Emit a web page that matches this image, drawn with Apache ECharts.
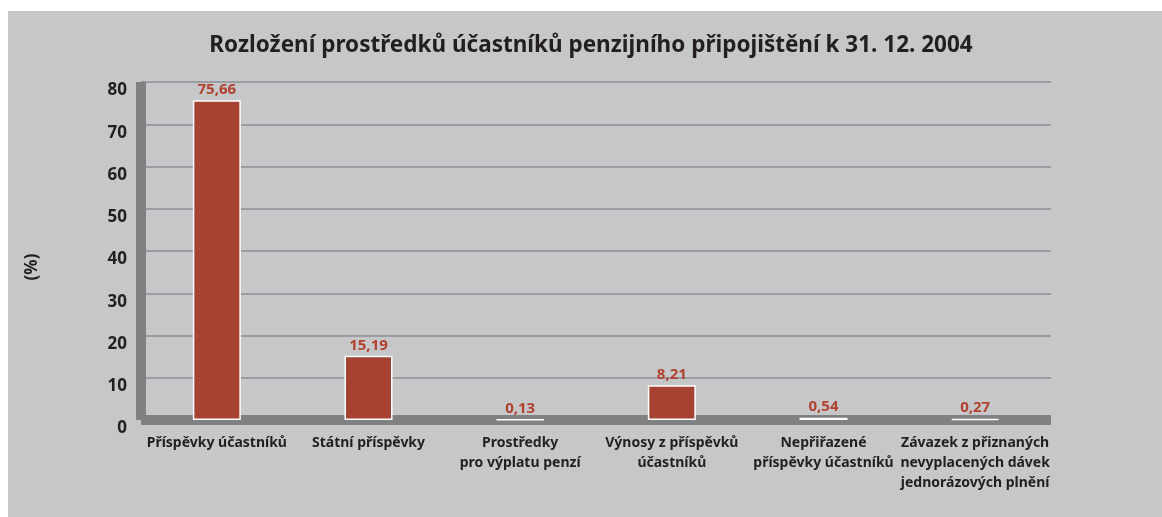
<!DOCTYPE html>
<html>
<head>
<meta charset="utf-8">
<script src="https://cdn.jsdelivr.net/npm/echarts@6/dist/echarts.min.js"></script>
<style>
html, body { margin: 0; padding: 0; background: #fff; }
#chart { width: 1162px; height: 517px; }
</style>
</head>
<body>
<div id="chart"></div>
<script>
// data
var titleText = 'Rozložení prostředků účastníků penzijního připojištění k 31. 12. 2004';
var categories = [
    'Příspěvky účastníků',
    'Státní příspěvky',
    'Prostředky\npro výplatu penzí',
    'Výnosy z příspěvků\núčastníků',
    'Nepřiřazené\npříspěvky účastníků',
    'Závazek z přiznaných\nnevyplacených dávek\njednorázových plnění'
];
var shares = [75.66, 15.19, 0.13, 8.21, 0.54, 0.27];
var yTicks = [0, 10, 20, 30, 40, 50, 60, 70, 80];

var font = 'Noto Sans';
var myChart = echarts.init(document.getElementById('chart'));
var option = {
    backgroundColor: '#c6c7c9',
    animation: false,
    textStyle: { fontFamily: font },
    graphic: [
        // white page margins
        { type: 'rect', shape: { x: 0, y: 0, width: 1162, height: 11 }, style: { fill: '#fff' }, silent: true },
        { type: 'rect', shape: { x: 0, y: 0, width: 8, height: 517 }, style: { fill: '#fff' }, silent: true },
        {
            type: 'text', x: 591, y: 46,
            style: {
                text: titleText, fill: '#231f20', font: 'bold 22.5px "Noto Sans"',
                textAlign: 'center', textVerticalAlign: 'middle'
            }
        },
        {
            type: 'text', x: 32, y: 267, rotation: Math.PI / 2,
            style: {
                text: '(%)', fill: '#231f20', font: 'bold 17px "Noto Sans"',
                textAlign: 'center', textVerticalAlign: 'middle'
            }
        }
    ],
    grid: { left: 141, right: 111, top: 82, bottom: 97 },
    xAxis: {
        type: 'category',
        data: categories,
        axisTick: { show: false },
        axisLine: { lineStyle: { color: '#808183', width: 10, cap: 'butt' } },
        axisLabel: {
            interval: 0,
            margin: 13,
            color: '#231f20',
            fontSize: 14,
            fontWeight: 'bold',
            lineHeight: 20,
            fontFamily: font
        }
    },
    yAxis: {
        type: 'value',
        min: yTicks[0],
        max: yTicks[yTicks.length - 1],
        interval: 10,
        axisLine: { show: true, lineStyle: { color: '#808183', width: 10, cap: 'butt' } },
        axisTick: { show: false },
        splitLine: { lineStyle: { color: '#8d8e90', width: 1.5 } },
        axisLabel: {
            margin: 14,
            color: '#231f20',
            fontSize: 17,
            fontWeight: 'bold',
            verticalAlign: 'top',
            fontFamily: font
        }
    },
    series: [{
        type: 'bar',
        data: shares,
        barWidth: 48,
        itemStyle: { color: '#a64232', borderColor: '#ffffff', borderWidth: 1.5 },
        label: {
            show: true,
            position: 'top',
            distance: 3,
            color: '#b0422f',
            fontSize: 15,
            fontWeight: 'bold',
            fontFamily: font,
            formatter: function (p) { return p.value.toFixed(2).replace('.', ','); }
        }
    }]
};
myChart.setOption(option);
</script>
</body>
</html>
